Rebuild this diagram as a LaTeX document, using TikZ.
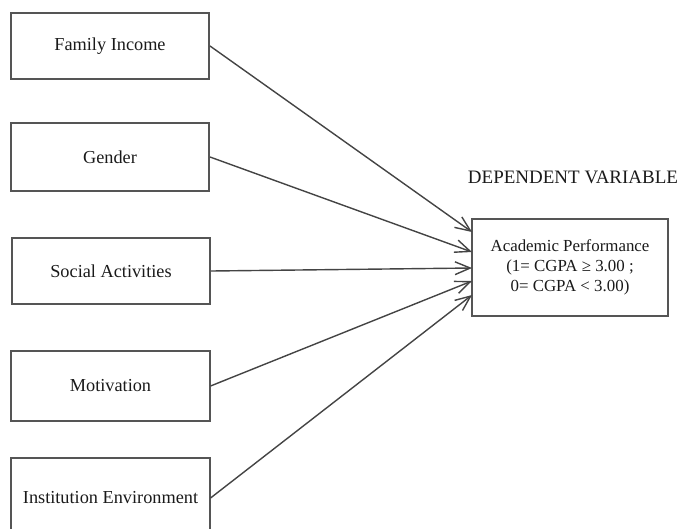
\documentclass[tikz,border=0pt]{standalone}
\usepackage{fontspec}
\setmainfont{Liberation Serif}
\usepackage{tikz}
\usetikzlibrary{arrows.meta}
\definecolor{boxgray}{HTML}{555555}
\definecolor{linegray}{HTML}{444444}
\definecolor{textgray}{HTML}{1A1A1A}

\begin{document}
\begin{tikzpicture}[x=0.025cm,y=-0.025cm,
    factor/.style={draw=boxgray,line width=1.4pt,rectangle,minimum width=4.95cm,
        text=textgray,font=\fontsize{13}{15}\selectfont,inner sep=0pt},
    outcome/.style={draw=boxgray,line width=1.4pt,rectangle,minimum width=4.9cm,
        minimum height=2.425cm,align=center,text=textgray,
        font=\fontsize{12}{14.2}\selectfont,inner sep=0pt},
    link/.style={draw=linegray,line width=1pt,-{Straight Barb[length=3.8mm,width=3.2mm]}}]
        \useasboundingbox (0,0) rectangle (681,528);

        \node[factor,minimum height=1.65cm] (income) at (110,46) {Family Income};
        \node[factor,minimum height=1.7cm] (gender) at (110,157) {Gender};
        \node[factor,minimum height=1.65cm] (social) at (111,271) {Social Activities};
        \node[factor,minimum height=1.75cm] (motive) at (110.5,386) {Motivation};
        \node[factor,minimum height=2cm] (environ) at (110.5,498) {Institution Environment};

        \node[outcome] (perf) at (570,267.5) {Academic Performance\\(1= CGPA ≥ 3.00 ;\\0= CGPA < 3.00)};
        \node[text=textgray,font=\fontsize{13.5}{16}\selectfont] (dv) at (573,177) {DEPENDENT VARIABLE};

        \coordinate (in1) at (472,232);
        \coordinate (in2) at (472,252);
        \coordinate (in3) at (472,268);
        \coordinate (in4) at (472,281);
        \coordinate (in5) at (472,295);

        \draw[link] (income.east)--(in1);
        \draw[link] (gender.east)--(in2);
        \draw[link] (social.east)--(in3);
        \draw[link] (motive.east)--(in4);
        \draw[link] (environ.east)--(in5);
    \end{tikzpicture}
\end{document}
